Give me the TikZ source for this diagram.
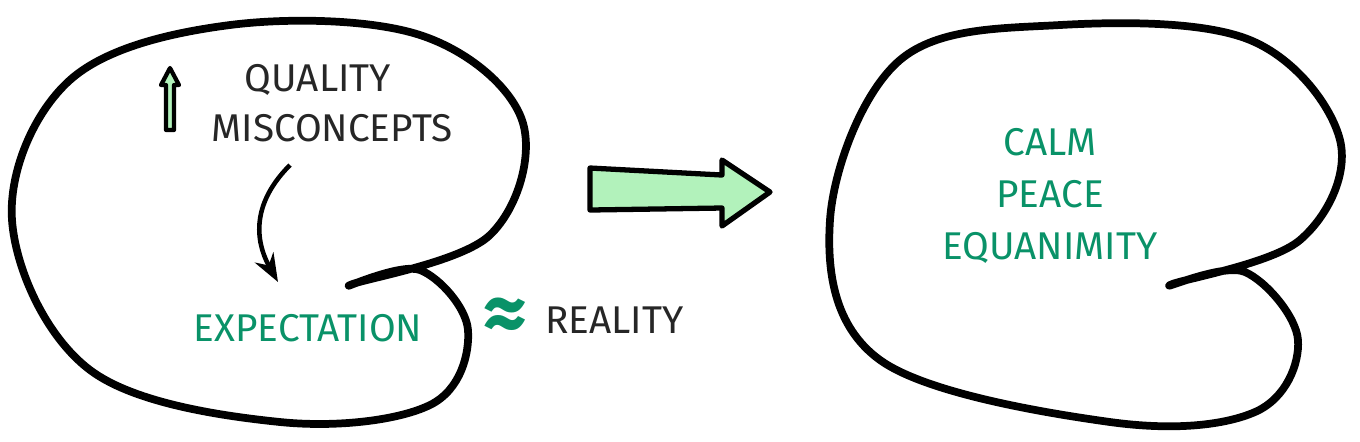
\documentclass[tikz,border=0pt]{standalone}
\usepackage{fontspec}
\setmainfont{Fira Sans}
\usetikzlibrary{arrows.meta,positioning}
\definecolor{mint}{HTML}{B2F2BB}
\definecolor{leaf}{HTML}{099268}
\begin{document}
\begin{tikzpicture}[x=0.01cm,y=-0.01cm,
  blob/.style={line width=2.2pt,line join=round},
  darktext/.style={font=\fontsize{11}{13}\selectfont,text=black!85},
  greentext/.style={font=\fontsize{11}{13}\selectfont,text=leaf}]
\useasboundingbox (0,0) rectangle (1360,441);
% left blob
\draw[blob] plot[smooth cycle,tension=0.6] coordinates {(350,285) (420,270) (468,330) (430,405) (280,422) (90,370) (12,220) (70,80) (230,25) (420,35) (522,120) (490,235)};
% right blob
\draw[blob] plot[smooth cycle,tension=0.6] coordinates {(1170,285) (1245,272) (1298,340) (1255,412) (1110,422) (880,360) (830,220) (900,60) (1060,25) (1250,40) (1340,140) (1300,240)};
% texts
\node[darktext] (quality) at (318,80) {QUALITY};
\node[darktext] (miscon) at (332,128) {MISCONCEPTS};
\node[greentext] (expect) at (308,328) {EXPECTATION};
\node[text=leaf,font=\fontsize{24}{24}\selectfont\bfseries] (approx) at (505,320) {≈};
\node[darktext,anchor=west] (reality) at (533,320) {REALITY};
\node[greentext] (calm) at (1050,142) {CALM};
\node[greentext,below=0.45 of calm] (peace) {PEACE};
\node[greentext,below=0.45 of peace] (equa) {EQUANIMITY};
% arrows
\coordinate (cstart) at (290,165);
\coordinate (cend) at (278,282);
\draw[line width=1.3pt,-{Stealth[length=8pt]}] (cstart) .. controls (245,210) and (260,250) .. (cend);
\draw[line width=1.5pt,fill=mint,line join=round] (590,168) -- (722,175) -- (722,160) -- (770,192) -- (722,226) -- (722,208) -- (590,210) -- cycle;
\draw[line width=1.2pt,fill=mint,line join=round] (166,130) -- (166,85) -- (161,85) -- (170,68) -- (179,85) -- (174,85) -- (174,130) -- cycle;
\end{tikzpicture}
\end{document}
